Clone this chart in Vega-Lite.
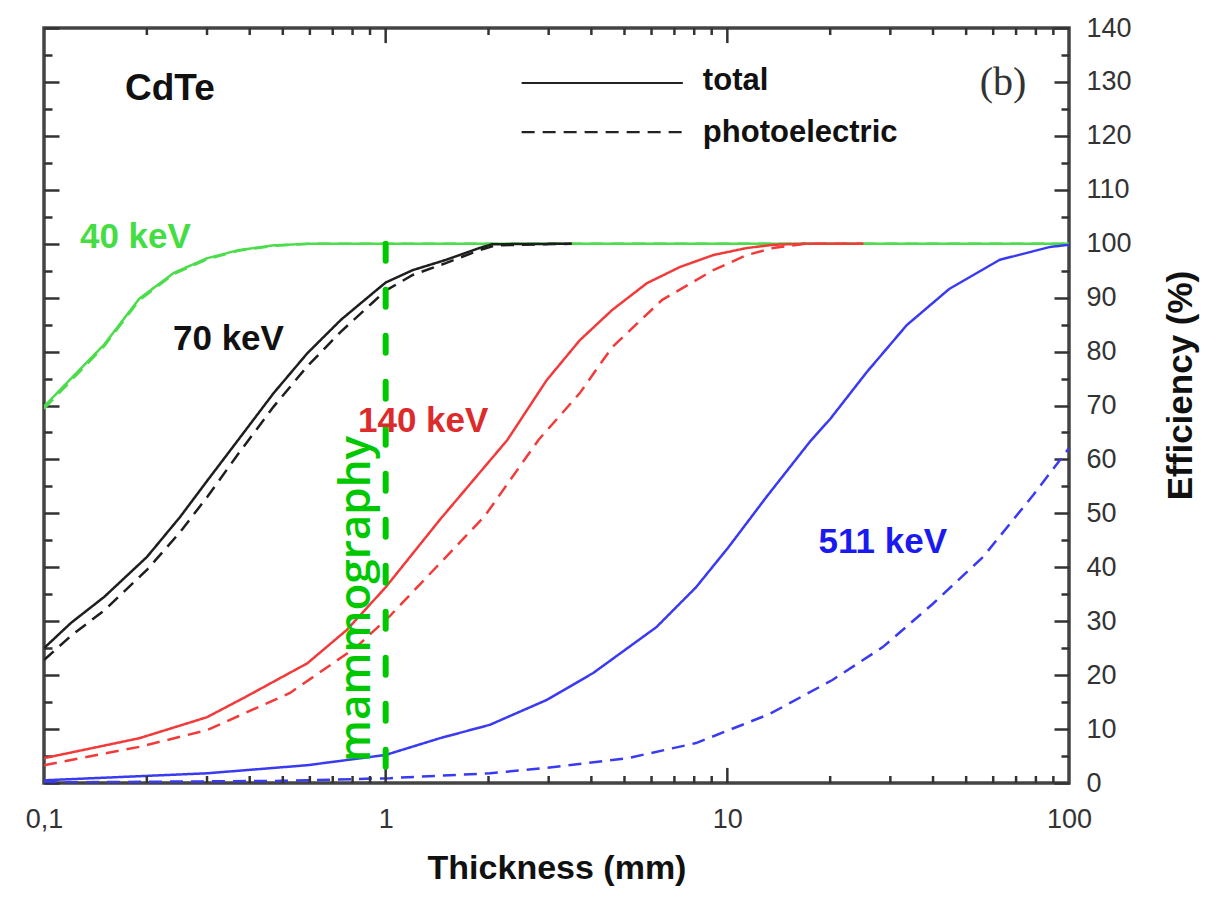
{
  "$schema": "https://vega.github.io/schema/vega-lite/v6.json",
  "width": 1025,
  "height": 755,
  "autosize": {"type": "none"},
  "padding": {"left": 44, "top": 28, "right": 155, "bottom": 120},
  "background": "white",
  "config": {
    "view": {"stroke": "#444444", "strokeWidth": 3.5},
    "axis": {"domain": false, "ticks": false, "tickSize": 0, "gridColor": "#333333", "gridWidth": 2.5, "gridOpacity": 1, "labelFont": "Liberation Sans", "labelFontSize": 27, "labelColor": "#333333", "titleFont": "Liberation Sans", "labelFlush": false, "labelOverlap": false, "labelBound": false}
  },
  "datasets": {
    "curves": [
      {"e": "40 keV", "t": "total", "x": 0.1, "y": 69.8}, {"e": "40 keV", "t": "total", "x": 0.12, "y": 75}, {"e": "40 keV", "t": "total", "x": 0.15, "y": 81.3}, {"e": "40 keV", "t": "total", "x": 0.19, "y": 89.8}, {"e": "40 keV", "t": "total", "x": 0.24, "y": 94.6}, {"e": "40 keV", "t": "total", "x": 0.3, "y": 97.3}, {"e": "40 keV", "t": "total", "x": 0.37, "y": 98.8}, {"e": "40 keV", "t": "total", "x": 0.47, "y": 99.7}, {"e": "40 keV", "t": "total", "x": 0.6, "y": 100}, {"e": "40 keV", "t": "total", "x": 1, "y": 100}, {"e": "40 keV", "t": "total", "x": 10, "y": 100}, {"e": "40 keV", "t": "total", "x": 100, "y": 100},
      {"e": "40 keV", "t": "photoelectric", "x": 0.1, "y": 69.4}, {"e": "40 keV", "t": "photoelectric", "x": 0.12, "y": 74.6}, {"e": "40 keV", "t": "photoelectric", "x": 0.15, "y": 81}, {"e": "40 keV", "t": "photoelectric", "x": 0.19, "y": 89.5}, {"e": "40 keV", "t": "photoelectric", "x": 0.24, "y": 94.4}, {"e": "40 keV", "t": "photoelectric", "x": 0.3, "y": 97.1}, {"e": "40 keV", "t": "photoelectric", "x": 0.37, "y": 98.7}, {"e": "40 keV", "t": "photoelectric", "x": 0.47, "y": 99.6}, {"e": "40 keV", "t": "photoelectric", "x": 0.6, "y": 100}, {"e": "40 keV", "t": "photoelectric", "x": 100, "y": 100},
      {"e": "70 keV", "t": "total", "x": 0.1, "y": 25}, {"e": "70 keV", "t": "total", "x": 0.12, "y": 29.7}, {"e": "70 keV", "t": "total", "x": 0.15, "y": 34.5}, {"e": "70 keV", "t": "total", "x": 0.2, "y": 41.9}, {"e": "70 keV", "t": "total", "x": 0.25, "y": 49.3}, {"e": "70 keV", "t": "total", "x": 0.3, "y": 56}, {"e": "70 keV", "t": "total", "x": 0.37, "y": 63.6}, {"e": "70 keV", "t": "total", "x": 0.47, "y": 72.3}, {"e": "70 keV", "t": "total", "x": 0.59, "y": 79.7}, {"e": "70 keV", "t": "total", "x": 0.74, "y": 85.9}, {"e": "70 keV", "t": "total", "x": 0.92, "y": 90.9}, {"e": "70 keV", "t": "total", "x": 1, "y": 92.8}, {"e": "70 keV", "t": "total", "x": 1.2, "y": 95.1}, {"e": "70 keV", "t": "total", "x": 1.5, "y": 97}, {"e": "70 keV", "t": "total", "x": 1.88, "y": 99.2}, {"e": "70 keV", "t": "total", "x": 2.05, "y": 99.9}, {"e": "70 keV", "t": "total", "x": 3.5, "y": 100},
      {"e": "70 keV", "t": "photoelectric", "x": 0.1, "y": 22.8}, {"e": "70 keV", "t": "photoelectric", "x": 0.12, "y": 27.3}, {"e": "70 keV", "t": "photoelectric", "x": 0.15, "y": 32}, {"e": "70 keV", "t": "photoelectric", "x": 0.2, "y": 39.5}, {"e": "70 keV", "t": "photoelectric", "x": 0.25, "y": 46.5}, {"e": "70 keV", "t": "photoelectric", "x": 0.3, "y": 53}, {"e": "70 keV", "t": "photoelectric", "x": 0.37, "y": 61}, {"e": "70 keV", "t": "photoelectric", "x": 0.47, "y": 69.8}, {"e": "70 keV", "t": "photoelectric", "x": 0.59, "y": 77.3}, {"e": "70 keV", "t": "photoelectric", "x": 0.74, "y": 83.7}, {"e": "70 keV", "t": "photoelectric", "x": 0.92, "y": 89.2}, {"e": "70 keV", "t": "photoelectric", "x": 1, "y": 91.3}, {"e": "70 keV", "t": "photoelectric", "x": 1.2, "y": 94.2}, {"e": "70 keV", "t": "photoelectric", "x": 1.5, "y": 96.4}, {"e": "70 keV", "t": "photoelectric", "x": 1.88, "y": 98.8}, {"e": "70 keV", "t": "photoelectric", "x": 2.1, "y": 99.7}, {"e": "70 keV", "t": "photoelectric", "x": 3.5, "y": 100},
      {"e": "140 keV", "t": "total", "x": 0.1, "y": 4.6}, {"e": "140 keV", "t": "total", "x": 0.19, "y": 8.3}, {"e": "140 keV", "t": "total", "x": 0.3, "y": 12.2}, {"e": "140 keV", "t": "total", "x": 0.39, "y": 16}, {"e": "140 keV", "t": "total", "x": 0.59, "y": 22.2}, {"e": "140 keV", "t": "total", "x": 0.77, "y": 28.4}, {"e": "140 keV", "t": "total", "x": 1, "y": 36.3}, {"e": "140 keV", "t": "total", "x": 1.44, "y": 48.8}, {"e": "140 keV", "t": "total", "x": 2.27, "y": 63.6}, {"e": "140 keV", "t": "total", "x": 2.96, "y": 74.7}, {"e": "140 keV", "t": "total", "x": 3.7, "y": 82.1}, {"e": "140 keV", "t": "total", "x": 4.6, "y": 87.7}, {"e": "140 keV", "t": "total", "x": 5.82, "y": 92.7}, {"e": "140 keV", "t": "total", "x": 7.28, "y": 95.7}, {"e": "140 keV", "t": "total", "x": 9.1, "y": 97.9}, {"e": "140 keV", "t": "total", "x": 11.4, "y": 99.2}, {"e": "140 keV", "t": "total", "x": 13.6, "y": 99.8}, {"e": "140 keV", "t": "total", "x": 17, "y": 100}, {"e": "140 keV", "t": "total", "x": 25, "y": 100},
      {"e": "140 keV", "t": "photoelectric", "x": 0.1, "y": 3.3}, {"e": "140 keV", "t": "photoelectric", "x": 0.19, "y": 6.7}, {"e": "140 keV", "t": "photoelectric", "x": 0.3, "y": 9.8}, {"e": "140 keV", "t": "photoelectric", "x": 0.525, "y": 16.7}, {"e": "140 keV", "t": "photoelectric", "x": 0.82, "y": 25.2}, {"e": "140 keV", "t": "photoelectric", "x": 1.03, "y": 31}, {"e": "140 keV", "t": "photoelectric", "x": 1.41, "y": 40.1}, {"e": "140 keV", "t": "photoelectric", "x": 1.95, "y": 49.5}, {"e": "140 keV", "t": "photoelectric", "x": 2.8, "y": 63.6}, {"e": "140 keV", "t": "photoelectric", "x": 3.7, "y": 72.3}, {"e": "140 keV", "t": "photoelectric", "x": 4.6, "y": 80.8}, {"e": "140 keV", "t": "photoelectric", "x": 6.45, "y": 89.6}, {"e": "140 keV", "t": "photoelectric", "x": 9.1, "y": 95.1}, {"e": "140 keV", "t": "photoelectric", "x": 11.4, "y": 97.9}, {"e": "140 keV", "t": "photoelectric", "x": 13.6, "y": 99.2}, {"e": "140 keV", "t": "photoelectric", "x": 17, "y": 100}, {"e": "140 keV", "t": "photoelectric", "x": 25, "y": 100},
      {"e": "511 keV", "t": "total", "x": 0.1, "y": 0.5}, {"e": "511 keV", "t": "total", "x": 0.3, "y": 1.8}, {"e": "511 keV", "t": "total", "x": 0.59, "y": 3.3}, {"e": "511 keV", "t": "total", "x": 1, "y": 5.2}, {"e": "511 keV", "t": "total", "x": 1.44, "y": 8.3}, {"e": "511 keV", "t": "total", "x": 2.02, "y": 10.8}, {"e": "511 keV", "t": "total", "x": 2.96, "y": 15.4}, {"e": "511 keV", "t": "total", "x": 4.05, "y": 20.4}, {"e": "511 keV", "t": "total", "x": 6.2, "y": 28.9}, {"e": "511 keV", "t": "total", "x": 8.1, "y": 36.3}, {"e": "511 keV", "t": "total", "x": 10.1, "y": 43.8}, {"e": "511 keV", "t": "total", "x": 13, "y": 53}, {"e": "511 keV", "t": "total", "x": 17.5, "y": 63.4}, {"e": "511 keV", "t": "total", "x": 20, "y": 67.5}, {"e": "511 keV", "t": "total", "x": 25.6, "y": 76.2}, {"e": "511 keV", "t": "total", "x": 33.5, "y": 84.9}, {"e": "511 keV", "t": "total", "x": 44.6, "y": 91.6}, {"e": "511 keV", "t": "total", "x": 62.6, "y": 97}, {"e": "511 keV", "t": "total", "x": 88, "y": 99.4}, {"e": "511 keV", "t": "total", "x": 100, "y": 99.8},
      {"e": "511 keV", "t": "photoelectric", "x": 0.1, "y": 0.1}, {"e": "511 keV", "t": "photoelectric", "x": 0.5, "y": 0.4}, {"e": "511 keV", "t": "photoelectric", "x": 1.03, "y": 0.9}, {"e": "511 keV", "t": "photoelectric", "x": 2.02, "y": 1.8}, {"e": "511 keV", "t": "photoelectric", "x": 2.96, "y": 2.8}, {"e": "511 keV", "t": "photoelectric", "x": 5.1, "y": 4.6}, {"e": "511 keV", "t": "photoelectric", "x": 8.1, "y": 7.4}, {"e": "511 keV", "t": "photoelectric", "x": 13.3, "y": 12.8}, {"e": "511 keV", "t": "photoelectric", "x": 20.3, "y": 19.1}, {"e": "511 keV", "t": "photoelectric", "x": 28.5, "y": 25.2}, {"e": "511 keV", "t": "photoelectric", "x": 39.9, "y": 33.2}, {"e": "511 keV", "t": "photoelectric", "x": 56, "y": 41.9}, {"e": "511 keV", "t": "photoelectric", "x": 78.6, "y": 53.4}, {"e": "511 keV", "t": "photoelectric", "x": 100, "y": 62.1}
    ],
    "key": [
      {"t": "total", "x": 2.5, "x2": 7.41, "y": 129.8},
      {"t": "photoelectric", "x": 2.5, "x2": 7.41, "y": 120.7}
    ],
    "majorx": [{"v": 1}, {"v": 10}],
    "minorx": [{"v": 0.2}, {"v": 0.3}, {"v": 0.4}, {"v": 0.5}, {"v": 0.6}, {"v": 0.7}, {"v": 0.8}, {"v": 0.9}, {"v": 2}, {"v": 3}, {"v": 4}, {"v": 5}, {"v": 6}, {"v": 7}, {"v": 8}, {"v": 9}, {"v": 20}, {"v": 30}, {"v": 40}, {"v": 50}, {"v": 60}, {"v": 70}, {"v": 80}, {"v": 90}],
    "one": [{}]
  },
  "resolve": {"axis": {"x": "independent", "y": "independent"}},
  "layer": [
    {
      "data": {"name": "curves"},
      "mark": {"type": "line", "strokeWidth": 2.5, "clip": true},
      "encoding": {
        "x": {"field": "x", "type": "quantitative", "scale": {"type": "log", "domain": [0.1, 100], "nice": false},
          "axis": {"orient": "bottom", "values": [0.1, 1, 10, 100], "grid": false, "labelPadding": 23, "labelExpr": "datum.value < 0.5 ? '0,1' : format(datum.value, 'd')", "title": "Thickness (mm)", "titleFontSize": 34, "titleFontWeight": "bold", "titleColor": "#111111", "titleY": 95, "titleBaseline": "alphabetic"}},
        "y": {"field": "y", "type": "quantitative", "scale": {"domain": [0, 140], "nice": false},
          "axis": {"orient": "right", "values": [0, 10, 20, 30, 40, 50, 60, 70, 80, 90, 100, 110, 120, 130, 140], "grid": true, "gridDash": [15, 995, 15], "labelPadding": 17, "labelAlign": "left", "labelBaseline": "middle", "title": "Efficiency (%)", "titleFontSize": 35, "titleFontWeight": "bold", "titleColor": "#111111", "titleAngle": 270, "titleX": 122, "titleY": 357, "titleAlign": "center", "titleBaseline": "alphabetic"}},
        "color": {"field": "e", "type": "nominal", "scale": {"domain": ["40 keV", "70 keV", "140 keV", "511 keV"], "range": ["#4cdc4c", "#1e1e1e", "#f23a3a", "#3a3af2"]}, "legend": null},
        "strokeDash": {"field": "t", "type": "nominal", "scale": {"domain": ["total", "photoelectric"], "range": [[1, 0], [13, 8]]}, "legend": null}
      }
    },
    {
      "data": {"name": "majorx"},
      "mark": {"type": "rule", "strokeWidth": 2.5, "color": "#333333"},
      "encoding": {"x": {"field": "v", "type": "quantitative", "axis": null}, "y": {"datum": 0, "type": "quantitative", "axis": null}, "y2": {"datum": 2.8}}
    },
    {
      "data": {"name": "majorx"},
      "mark": {"type": "rule", "strokeWidth": 2.5, "color": "#333333"},
      "encoding": {"x": {"field": "v", "type": "quantitative", "axis": null}, "y": {"datum": 140, "type": "quantitative", "axis": null}, "y2": {"datum": 137.2}}
    },
    {
      "data": {"name": "minorx"},
      "mark": {"type": "rule", "strokeWidth": 2.5, "color": "#333333"},
      "encoding": {"x": {"field": "v", "type": "quantitative", "axis": null}, "y": {"datum": 0, "type": "quantitative", "axis": null}, "y2": {"datum": 1.3}}
    },
    {
      "data": {"name": "minorx"},
      "mark": {"type": "rule", "strokeWidth": 2.5, "color": "#333333"},
      "encoding": {"x": {"field": "v", "type": "quantitative", "axis": null}, "y": {"datum": 140, "type": "quantitative", "axis": null}, "y2": {"datum": 138.7}}
    },
    {
      "data": {"name": "one"},
      "mark": {"type": "rule", "color": "#00c800", "strokeWidth": 6, "strokeDash": [17, 29], "strokeCap": "round"},
      "encoding": {
        "x": {"datum": 1, "type": "quantitative", "axis": null},
        "y": {"datum": 100, "type": "quantitative", "axis": {"orient": "right", "values": [5, 15, 25, 35, 45, 55, 65, 75, 85, 95, 105, 115, 125, 135], "grid": true, "gridDash": [8, 1009, 8], "labels": false, "title": null}},
        "y2": {"datum": 0}
      }
    },
    {
      "data": {"name": "key"},
      "mark": {"type": "rule", "color": "#222222", "strokeWidth": 2.2},
      "encoding": {
        "x": {"field": "x", "type": "quantitative", "axis": null},
        "x2": {"field": "x2"},
        "y": {"field": "y", "type": "quantitative", "axis": null},
        "strokeDash": {"field": "t", "type": "nominal", "legend": null}
      }
    },
    {
      "data": {"name": "one"},
      "mark": {"type": "text", "text": "CdTe", "font": "Liberation Sans", "fontSize": 37, "fontWeight": "bold", "color": "#111111", "align": "left", "baseline": "alphabetic"},
      "encoding": {"x": {"datum": 0.1726, "type": "quantitative", "axis": null}, "y": {"datum": 126.6, "type": "quantitative", "axis": null}}
    },
    {
      "data": {"name": "one"},
      "mark": {"type": "text", "text": "(b)", "font": "Liberation Serif", "fontSize": 40, "color": "#333333", "align": "left", "baseline": "alphabetic"},
      "encoding": {"x": {"datum": 54.8, "type": "quantitative", "axis": null}, "y": {"datum": 127.5, "type": "quantitative", "axis": null}}
    },
    {
      "data": {"name": "one"},
      "mark": {"type": "text", "text": "total", "font": "Liberation Sans", "fontSize": 31, "fontWeight": "bold", "color": "#111111", "align": "left", "baseline": "alphabetic"},
      "encoding": {"x": {"datum": 8.48, "type": "quantitative", "axis": null}, "y": {"datum": 128.5, "type": "quantitative", "axis": null}}
    },
    {
      "data": {"name": "one"},
      "mark": {"type": "text", "text": "photoelectric", "font": "Liberation Sans", "fontSize": 31, "fontWeight": "bold", "color": "#111111", "align": "left", "baseline": "alphabetic"},
      "encoding": {"x": {"datum": 8.48, "type": "quantitative", "axis": null}, "y": {"datum": 118.9, "type": "quantitative", "axis": null}}
    },
    {
      "data": {"name": "one"},
      "mark": {"type": "text", "text": "40 keV", "font": "Liberation Sans", "fontSize": 35, "fontWeight": "bold", "color": "#44dd44", "align": "left", "baseline": "alphabetic"},
      "encoding": {"x": {"datum": 0.1274, "type": "quantitative", "axis": null}, "y": {"datum": 99.2, "type": "quantitative", "axis": null}}
    },
    {
      "data": {"name": "one"},
      "mark": {"type": "text", "text": "70 keV", "font": "Liberation Sans", "fontSize": 35, "fontWeight": "bold", "color": "#111111", "align": "left", "baseline": "alphabetic"},
      "encoding": {"x": {"datum": 0.2385, "type": "quantitative", "axis": null}, "y": {"datum": 80.3, "type": "quantitative", "axis": null}}
    },
    {
      "data": {"name": "one"},
      "mark": {"type": "text", "text": "140 keV", "font": "Liberation Sans", "fontSize": 35, "fontWeight": "bold", "color": "#dd2a2a", "align": "left", "baseline": "alphabetic"},
      "encoding": {"x": {"datum": 0.8296, "type": "quantitative", "axis": null}, "y": {"datum": 65.1, "type": "quantitative", "axis": null}}
    },
    {
      "data": {"name": "one"},
      "mark": {"type": "text", "text": "511 keV", "font": "Liberation Sans", "fontSize": 35, "fontWeight": "bold", "color": "#1a1af0", "align": "left", "baseline": "alphabetic"},
      "encoding": {"x": {"datum": 18.5, "type": "quantitative", "axis": null}, "y": {"datum": 42.6, "type": "quantitative", "axis": null}}
    },
    {
      "data": {"name": "one"},
      "mark": {"type": "text", "text": "mammography", "font": "Open Sans", "fontSize": 44, "fontWeight": 600, "color": "#00c800", "align": "left", "baseline": "alphabetic", "angle": 270},
      "encoding": {"x": {"datum": 0.9, "type": "quantitative", "axis": null}, "y": {"datum": 3.9, "type": "quantitative", "axis": null}}
    }
  ]
}
